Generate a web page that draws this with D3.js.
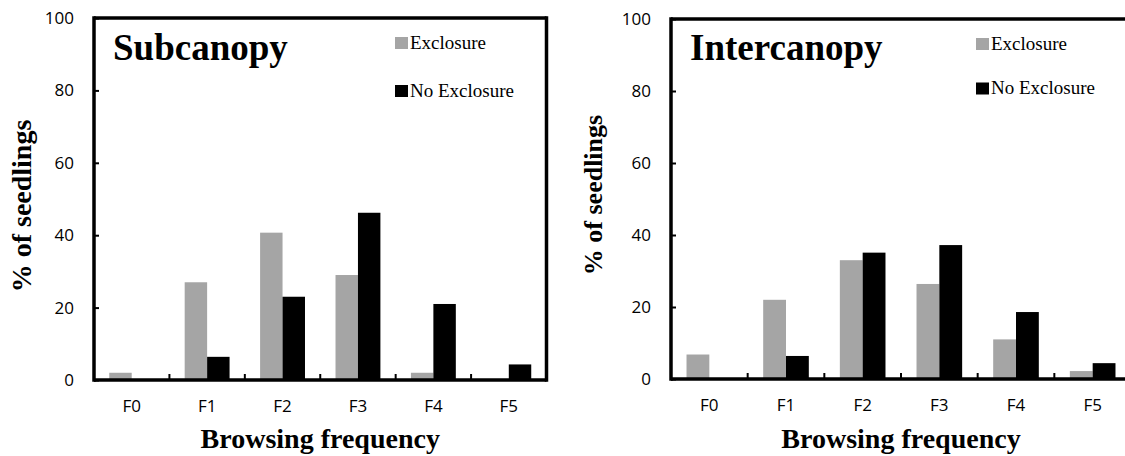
<!DOCTYPE html>
<html>
<head>
<meta charset="utf-8">
<script src="https://cdn.jsdelivr.net/npm/d3@7"></script>
<style>
  html, body { margin: 0; padding: 0; background: #fff; }
  svg { display: block; }
</style>
</head>
<body>
<svg id="chart" width="1125" height="456"></svg>
<script>
// ---- data ----
const categories = ["F0", "F1", "F2", "F3", "F4", "F5"];
const seriesNames = ["Exclosure", "No Exclosure"];
const subExclosure = [2, 27, 40.7, 29, 2, 0];
const subNoExclosure = [0, 6.4, 23, 46.2, 21, 4.3];
const interExclosure = [6.8, 22, 33, 26.4, 11, 2.2];
const interNoExclosure = [0, 6.4, 35.1, 37.2, 18.6, 4.4];
const yTicks = [0, 20, 40, 60, 80, 100];
const panelTitles = ["Subcanopy", "Intercanopy"];
const xTitle = "Browsing frequency";
const yTitle = "% of seedlings";

const colors = { "Exclosure": "#a5a5a5", "No Exclosure": "#000000" };

const svg = d3.select("#chart");

const panels = [
  { title: panelTitles[0], values: [subExclosure, subNoExclosure],
    x0: 94, x1: 546.5, yTop: 18, yBot: 380, ytSize: 28, ytX: 31, ytY: 206,
    leg: { x: 395, y1: 37, y2: 85 }, rightBorder: true },
  { title: panelTitles[1], values: [interExclosure, interNoExclosure],
    x0: 671, x1: 1131, yTop: 19, yBot: 379, ytSize: 26, ytX: 602, ytY: 195,
    leg: { x: 976, y1: 38, y2: 82.5 }, rightBorder: true }
];

const serif = "'Liberation Serif', 'Times New Roman', serif";
const sans = "'Open Sans', 'Liberation Sans', sans-serif";

panels.forEach(p => {
  const g = svg.append("g");
  const x = d3.scaleBand().domain(categories).range([p.x0, p.x1]).paddingInner(0).paddingOuter(0);
  const xs = d3.scaleBand().domain(seriesNames).range([0, x.bandwidth()]).paddingInner(0).paddingOuter(0.68);
  const y = d3.scaleLinear().domain([0, 100]).range([p.yBot, p.yTop]);

  // bars
  seriesNames.forEach((s, si) => {
    g.append("g").selectAll("rect").data(categories).join("rect")
      .attr("x", c => x(c) + xs(s))
      .attr("width", xs.bandwidth())
      .attr("y", (c, i) => y(p.values[si][i]))
      .attr("height", (c, i) => y(0) - y(p.values[si][i]))
      .attr("fill", colors[s]);
  });

  // y axis (inner ticks, labels on left)
  const yAxis = d3.axisLeft(y).tickValues(yTicks).tickFormat(d3.format("d"))
    .tickSizeInner(-5).tickSizeOuter(0).tickPadding(20);
  const ya = g.append("g").attr("transform", `translate(${p.x0},0)`).call(yAxis);
  ya.select(".domain").remove();
  ya.selectAll(".tick line").attr("stroke", "#000").attr("stroke-width", 2);
  ya.selectAll(".tick text").attr("font-family", sans).attr("font-size", 17).attr("fill", "#000");

  // x axis labels
  const xAxis = d3.axisBottom(x).tickSize(0).tickPadding(20);
  const xa = g.append("g").attr("transform", `translate(0,${p.yBot})`).call(xAxis);
  xa.select(".domain").remove();
  xa.selectAll(".tick text").attr("font-family", sans).attr("font-size", 17).attr("fill", "#000");

  // boundary ticks on x axis (pointing inward)
  g.append("g").selectAll("line").data(categories.slice(1)).join("line")
    .attr("x1", c => x(c)).attr("x2", c => x(c))
    .attr("y1", p.yBot).attr("y2", p.yBot - 6)
    .attr("stroke", "#000").attr("stroke-width", 2);

  // frame
  const fr = g.append("g").attr("stroke", "#000").attr("stroke-width", 3.5).attr("fill", "none");
  fr.append("line").attr("x1", p.x0).attr("x2", p.x0).attr("y1", p.yTop - 1.75).attr("y2", p.yBot + 1.75);
  fr.append("line").attr("x1", p.x0).attr("x2", p.x1).attr("y1", p.yBot).attr("y2", p.yBot);
  fr.append("line").attr("x1", p.x0).attr("x2", p.x1).attr("y1", p.yTop).attr("y2", p.yTop);
  if (p.rightBorder) fr.append("line").attr("x1", p.x1).attr("x2", p.x1).attr("y1", p.yTop - 1.75).attr("y2", p.yBot + 1.75);

  // panel title
  g.append("text").attr("x", p.x0 + 19).attr("y", 60)
    .attr("font-family", serif).attr("font-weight", "bold").attr("font-size", 37)
    .attr("fill", "#000").text(p.title);

  // legend
  [p.leg.y1, p.leg.y2].forEach((ly, i) => {
    g.append("rect").attr("x", p.leg.x).attr("y", ly).attr("width", 13).attr("height", 12)
      .attr("fill", colors[seriesNames[i]]);
    g.append("text").attr("x", p.leg.x + 15).attr("y", ly + 11.5)
      .attr("font-family", serif).attr("font-size", 19).attr("fill", "#000")
      .text(seriesNames[i]);
  });

  // x title
  g.append("text").attr("x", (p.x0 + p.x1) / 2).attr("y", 448)
    .attr("text-anchor", "middle").attr("font-family", serif).attr("font-weight", "bold")
    .attr("font-size", 28).attr("fill", "#000").text(xTitle);

  // y title
  g.append("text").attr("transform", `translate(${p.ytX},${p.ytY}) rotate(-90)`)
    .attr("text-anchor", "middle").attr("font-family", serif).attr("font-weight", "bold")
    .attr("font-size", p.ytSize).attr("fill", "#000").text(yTitle);
});
</script>
</body>
</html>
